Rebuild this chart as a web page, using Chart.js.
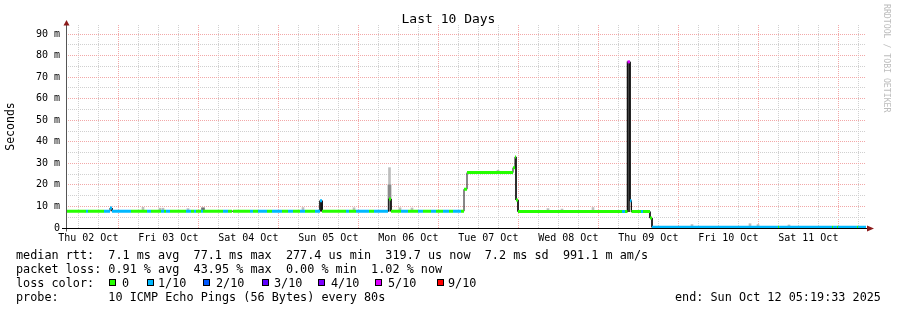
<!DOCTYPE html>
<html>
<head>
<meta charset="utf-8">
<script src="https://cdn.jsdelivr.net/npm/chart.js@4.4.1/dist/chart.umd.min.js"></script>
<style>
  html, body { margin: 0; padding: 0; background: #fff; }
  #wrap { position: relative; width: 897px; height: 310px; overflow: hidden; }
  canvas { position: absolute; left: 0; top: 0; }
  .mono { position: absolute; font-family: 'DejaVu Sans Mono', monospace; white-space: pre; color: #000; }
  .leg { font-size: 11.8px; line-height: 14px; }
  .sq { position: absolute; width: 7px; height: 7px; box-sizing: border-box; border: 1px solid #000; }
</style>
</head>
<body>
<div id="wrap">
  <canvas id="c" width="897" height="310"></canvas>
  <div class="mono" style="left:0;width:897px;text-align:center;top:11px;font-size:13px;line-height:16px;">Last 10 Days</div>
  <div class="mono" style="left:882px;top:4px;font-size:8.2px;line-height:10px;color:#bcbcbc;writing-mode:vertical-rl;">RRDTOOL / TOBI OETIKER</div>
  <div class="mono leg" style="left:16px;top:248px;">median rtt:  7.1 ms avg  77.1 ms max  277.4 us min  319.7 us now  7.2 ms sd  991.1 m am/s</div>
  <div class="mono leg" style="left:16px;top:262px;">packet loss: 0.91 % avg  43.95 % max  0.00 % min  1.02 % now</div>
  <div class="mono leg" style="left:16px;top:276px;">loss color:</div>
  <div id="lossLegend"></div>
  <div class="mono leg" style="left:16px;top:290px;">probe:       10 ICMP Echo Pings (56 Bytes) every 80s</div>
  <div class="mono leg" style="left:675px;top:290px;">end: Sun Oct 12 05:19:33 2025</div>
</div>
<script>
// ---------------- DATA ----------------
// x values are hours since Thu 02 Oct 2025 00:00
const xStart = 5.31;
const xEnd = 245.31;
const dayLabels = ['Thu 02 Oct', 'Fri 03 Oct', 'Sat 04 Oct', 'Sun 05 Oct', 'Mon 06 Oct',
                   'Tue 07 Oct', 'Wed 08 Oct', 'Thu 09 Oct', 'Fri 10 Oct', 'Sat 11 Oct'];
const yTickValues = [0, 5, 10, 15, 20, 25, 30, 35, 40, 45, 50, 55, 60, 65, 70, 75, 80, 85, 90];

// median RTT (ms), each value holds from its time until the next time
const medianTimes = [5.31, 11.31, 11.91, 16.71, 18.51, 19.11, 24.81, 29.61, 30.81, 33.81,
  34.71, 35.31, 36.51, 41.31, 42.81, 43.71, 44.31, 45.81, 46.41, 52.41,
  53.91, 55.11, 55.41, 60.51, 61.41, 62.91, 65.61, 67.11, 70.11, 71.91,
  73.41, 75.51, 77.01, 80.01, 81.51, 82.11, 89.31, 90.21, 92.31, 96.21,
  97.71, 101.91, 102.21, 102.81, 105.81, 107.91, 110.91, 112.41, 114.81, 116.31,
  118.41, 120.21, 121.41, 123.81, 124.71, 125.61, 139.41, 140.01, 140.31, 140.91,
  172.11, 173.01, 173.76, 174.51, 174.96, 177.81, 178.41, 180.51, 181.11, 218.91,
  219.21, 235.11, 235.41, 236.61, 236.91, 242.61, 242.91];
const medianValues = [7.8, 7.8, 7.8, 7.8, 9.3, 7.8, 7.8, 7.8, 7.8, 7.8,
  7.8, 7.8, 7.8, 7.8, 7.8, 7.8, 7.8, 7.8, 7.8, 7.8,
  7.8, 7.8, 7.8, 7.8, 7.8, 7.8, 7.8, 7.8, 7.8, 7.8,
  7.8, 7.8, 7.8, 7.8, 12.6, 7.8, 7.8, 7.8, 7.8, 7.8,
  7.8, 8.8, 13.5, 7.8, 7.8, 7.8, 7.8, 7.8, 7.8, 7.8,
  7.8, 7.8, 7.8, 7.8, 18, 25.7, 28, 33, 13, 7.6,
  7.6, 7.6, 77.1, 12.6, 7.6, 7.6, 7.6, 4.6, 0.32, 0.32,
  0.32, 0.32, 0.32, 0.32, 0.32, 0.32, 0.32];
// lost pings out of 10 for each interval
const medianLoss = [0, 1, 0, 1, 1, 1, 0, 1, 0, 1,
  0, 1, 0, 1, 0, 1, 0, 1, 0, 1,
  0, 1, 0, 1, 0, 1, 0, 1, 0, 1,
  0, 1, 0, 1, 1, 0, 1, 0, 1, 0,
  1, 1, 0, 0, 1, 0, 1, 0, 1, 0,
  1, 0, 1, 0, 0, 0, 0, 0, 0, 0,
  1, 0, 5, 1, 0, 1, 0, 0, 1, 0,
  1, 0, 1, 0, 1, 0, 1];

// smoke (spread of the individual pings)
const smokeTimes = [28.41, 33.51, 34.41, 41.91, 76.41, 91.71, 102.36, 105.51, 109.11, 134.91,
  149.91, 154.11, 163.41, 193.11, 210.51, 212.91, 222.21];
const smokeLow = [7.8, 7.8, 7.8, 7.8, 7.8, 7.8, 7.8, 7.8, 7.8, 25.7,
  7.6, 7.6, 7.6, 0.3, 0.3, 0.3, 0.3];
const smokeHigh = [9.6, 9.2, 9.2, 9.0, 9.5, 9.4, 28, 9.4, 9.3, 26.8,
  9.0, 8.8, 9.5, 1.6, 2.0, 1.6, 1.4];
// denser part of the smoke
const smokeDarkTimes = [46.41, 81.81, 102.36, 174.06];
const smokeDarkLow = [7.8, 7.8, 7.8, 7.6];
const smokeDarkHigh = [9.4, 12.6, 20, 77.1];

// legend entries
const lossLegendLabels = ['0', '1/10', '2/10', '3/10', '4/10', '5/10', '9/10'];
const lossLegendLevels = [0, 1, 2, 3, 4, 5, 9];

// ---------------- STYLE ----------------
const lossColors = ['#26ff00', '#00b8ff', '#0059ff', '#5e00ff', '#7e00ff', '#dd00ff',
                    '#dd00ff', '#dd00ff', '#dd00ff', '#ff0000'];
const smokeDarkShades = ['#707070', '#303030', '#8a8a8a', '#404040'];
const FONT = "'DejaVu Sans Mono', monospace";

// legend squares
(function () {
  const sqX = [109, 147, 203, 262, 318, 375, 437];
  const txX = [122, 158, 216, 274, 331, 388, 448];
  const host = document.getElementById('lossLegend');
  lossLegendLabels.forEach((lab, i) => {
    const s = document.createElement('div');
    s.className = 'sq';
    s.style.left = sqX[i] + 'px';
    s.style.top = '279px';
    s.style.background = lossColors[lossLegendLevels[i]];
    host.appendChild(s);
    const t = document.createElement('div');
    t.className = 'mono leg';
    t.style.left = txX[i] + 'px';
    t.style.top = '276px';
    t.textContent = lab;
    host.appendChild(t);
  });
})();

// ---------------- BUILD DATASETS ----------------
const bounds = medianTimes.concat([xEnd]);
const medianPath = [];
medianValues.forEach((v, i) => {
  medianPath.push({ x: bounds[i], y: v });
  medianPath.push({ x: bounds[i + 1], y: v });
});

const levels = [...new Set(medianLoss)];
const colorSets = levels.map(lv => {
  const pts = [];
  medianValues.forEach((v, i) => {
    if (medianLoss[i] !== lv) return;
    pts.push({ x: bounds[i], y: v });
    pts.push({ x: bounds[i + 1], y: v });
    pts.push({ x: bounds[i + 1], y: null });
  });
  return {
    type: 'line', data: pts, borderColor: lossColors[lv], borderWidth: 3,
    borderCapStyle: 'butt', pointRadius: 0, spanGaps: false, tension: 0, order: 1
  };
});

const smokeData = smokeTimes.map((t, i) => ({ x: t, y: [smokeLow[i], smokeHigh[i]] }));
const smokeDarkData = smokeDarkTimes.map((t, i) => ({ x: t, y: [smokeDarkLow[i], smokeDarkHigh[i]] }));

const axesPlugin = {
  id: 'axesArrows',
  afterDatasetsDraw(chart) {
    const { ctx, chartArea: a } = chart;
    const yb = Math.round(a.bottom) + 0.5;
    const xl = Math.round(a.left) + 0.5;
    ctx.save();
    ctx.lineWidth = 1;
    ctx.strokeStyle = '#555';
    ctx.beginPath(); ctx.moveTo(xl, yb + 3); ctx.lineTo(xl, a.top - 3); ctx.stroke();
    ctx.strokeStyle = '#000';
    ctx.beginPath(); ctx.moveTo(a.left - 4, yb); ctx.lineTo(a.right + 2, yb); ctx.stroke();
    ctx.fillStyle = '#8b1a1a';
    ctx.beginPath();
    ctx.moveTo(a.right + 1, yb - 3); ctx.lineTo(a.right + 8, yb); ctx.lineTo(a.right + 1, yb + 3);
    ctx.closePath(); ctx.fill();
    ctx.beginPath();
    ctx.moveTo(xl - 3, a.top + 0.5); ctx.lineTo(xl, a.top - 5); ctx.lineTo(xl + 3, a.top + 0.5);
    ctx.closePath(); ctx.fill();
    ctx.restore();
  }
};

const majorGrid = '#f2a8a8';
const minorGrid = '#d0d0d0';

new Chart(document.getElementById('c'), {
  type: 'line',
  data: {
    datasets: [
      ...colorSets,
      { type: 'line', data: medianPath, borderColor: '#111', borderWidth: 1, pointRadius: 0, tension: 0, order: 2 },
      { type: 'bar', data: smokeDarkData, backgroundColor: smokeDarkShades, borderWidth: 0, barThickness: 3, grouped: false, order: 3 },
      { type: 'bar', data: smokeData, backgroundColor: '#bdbdbd', borderWidth: 0, barThickness: 2, grouped: false, order: 4 }
    ]
  },
  options: {
    responsive: false,
    animation: false,
    events: [],
    layout: { padding: { left: 0, right: 31, top: 25, bottom: 0 } },
    plugins: { legend: { display: false }, tooltip: { enabled: false }, title: { display: false } },
    scales: {
      x: {
        type: 'linear', min: xStart, max: xEnd, offset: false,
        afterFit: s => { s.height = 82; },
        afterBuildTicks: s => {
          const t = [];
          for (let h = 6; h <= 240; h += 6) t.push({ value: h });
          s.ticks = t;
        },
        grid: {
          drawTicks: false,
          color: c => (c.tick && c.tick.value % 24 === 0) ? majorGrid : minorGrid,
          lineWidth: 1
        },
        border: { display: false, dash: [1, 1] },
        ticks: {
          autoSkip: false, maxRotation: 0, minRotation: 0, padding: 4, color: '#000',
          font: { family: FONT, size: 10 },
          callback: v => (v % 24 === 12) ? dayLabels[(v - 12) / 24] : ''
        }
      },
      y: {
        type: 'linear', min: 0, max: 94.2,
        afterFit: s => { s.width = 66; },
        afterBuildTicks: s => { s.ticks = yTickValues.map(v => ({ value: v })); },
        grid: {
          drawTicks: false,
          color: c => (c.tick && c.tick.value % 10 === 0) ? majorGrid : minorGrid,
          lineWidth: 1
        },
        border: { display: false, dash: [1, 1] },
        title: {
          display: true, text: 'Seconds', color: '#000',
          font: { family: FONT, size: 11.5 }, padding: { top: 4, bottom: 0 }
        },
        ticks: {
          autoSkip: false, padding: 6, color: '#000',
          font: { family: FONT, size: 10 },
          callback: v => (v % 10 === 0) ? (v === 0 ? '0' : v + ' m') : ''
        }
      }
    }
  },
  plugins: [axesPlugin]
});
</script>
</body>
</html>
